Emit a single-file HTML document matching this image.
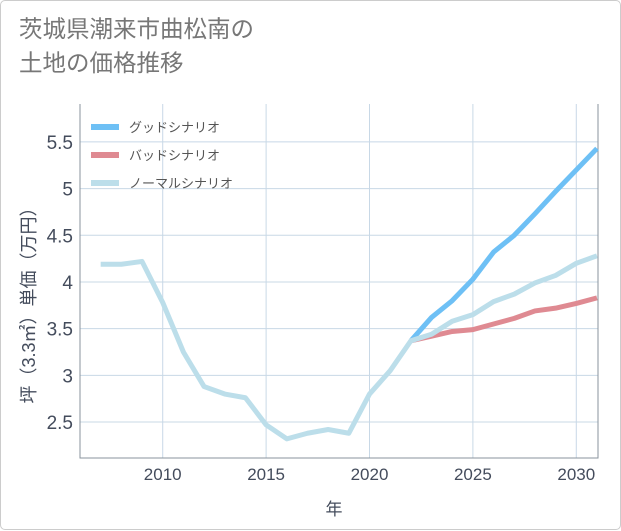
<!DOCTYPE html>
<html><head><meta charset="utf-8"><style>
body{margin:0;background:#fff;}
#wrap{position:relative;width:619px;height:528px;border:1px solid #ccc;border-radius:5px;background:#fff;font-family:"Liberation Sans","Noto Sans CJK JP",sans-serif;}
h1{position:absolute;left:18px;top:11px;margin:0;font-weight:normal;font-size:23.5px;line-height:34px;color:#777;}
svg{position:absolute;left:0;top:0;}
</style></head><body>
<div id="wrap">
<h1>茨城県潮来市曲松南の<br>土地の価格推移</h1>
<svg id="c" width="621" height="530"></svg>
</div>
<script>
const years=[2007,2008,2009,2010,2011,2012,2013,2014,2015,2016,2017,2018,2019,2020,2021,2022,2023,2024,2025,2026,2027,2028,2029,2030,2031];
const normal=[4.19,4.19,4.22,3.78,3.25,2.88,2.80,2.76,2.47,2.32,2.38,2.42,2.38,2.80,3.05,3.37,3.44,3.58,3.65,3.79,3.87,3.99,4.07,4.20,4.28];
const futureYears=[2022,2023,2024,2025,2026,2027,2028,2029,2030,2031];
const good=[3.37,3.62,3.80,4.03,4.32,4.50,4.73,4.97,5.20,5.43];
const bad=[3.37,3.42,3.47,3.49,3.55,3.61,3.69,3.72,3.77,3.83];
const xTicks=[2010,2015,2020,2025,2030];
const yTicks=[2.5,3,3.5,4,4.5,5,5.5];
const L=79,R=597,T=103,B=457;
const x=v=>L+(v-2006)*(R-L)/(2031.05-2006);
const y=v=>B-(v-2.115)*(B-T)/(5.906-2.115);
const svg=document.getElementById('c');
const NS='http://www.w3.org/2000/svg';
function mk(t,a){const e=document.createElementNS(NS,t);for(const k in a)e.setAttribute(k,a[k]);svg.appendChild(e);return e;}
yTicks.forEach(v=>{
const g=mk('line',{x1:L,x2:R,y1:y(v),y2:y(v),stroke:'#c8d8e6','stroke-width':1});


const t=mk('text',{x:L-7,y:y(v)+7,'text-anchor':'end','font-size':19,fill:'#444c5c'});
t.textContent=v;


});
xTicks.forEach(v=>{
const g=mk('line',{x1:x(v),x2:x(v),y1:T,y2:B,stroke:'#c8d8e6','stroke-width':1});


const t=mk('text',{x:x(v),y:B+22,'text-anchor':'middle','font-size':17,fill:'#444c5c'});
t.textContent=v;


});
const ax=mk('path',{d:`M${L},${T}V${B}H${R}V${T}`,fill:'none',stroke:'#8a939c','stroke-width':1});


function line(xs,ys,col,name){
const p=mk('polyline',{points:xs.map((v,i)=>x(v)+','+y(ys[i])).join(' '),fill:'none',stroke:col,'stroke-width':5,'stroke-linejoin':'round'});


}
line(futureYears,good,'#6ec0f5','good-scenario-line');
line(futureYears,bad,'#df8a92','bad-scenario-line');
line(years,normal,'#bcdeea','normal-scenario-line');
const leg=[['グッドシナリオ','#6ec0f5'],['バッドシナリオ','#df8a92'],['ノーマルシナリオ','#bcdeea']];
leg.forEach((d,i)=>{
const yy=126+i*28;
const s=mk('line',{x1:90,x2:118,y1:yy,y2:yy,stroke:d[1],'stroke-width':6});


const t=mk('text',{x:128,y:yy+5,'font-size':13,fill:'#555'});
t.textContent=d[0];


});
const yt=mk('text',{x:0,y:0,'font-size':18,fill:'#444c5c','text-anchor':'middle',transform:'translate(34,300) rotate(-90)'});
yt.textContent='坪（3.3㎡）単価（万円）';


const xt=mk('text',{x:333,y:514,'font-size':17,fill:'#444c5c','text-anchor':'middle'});
xt.textContent='年';


</script>
</body></html>
